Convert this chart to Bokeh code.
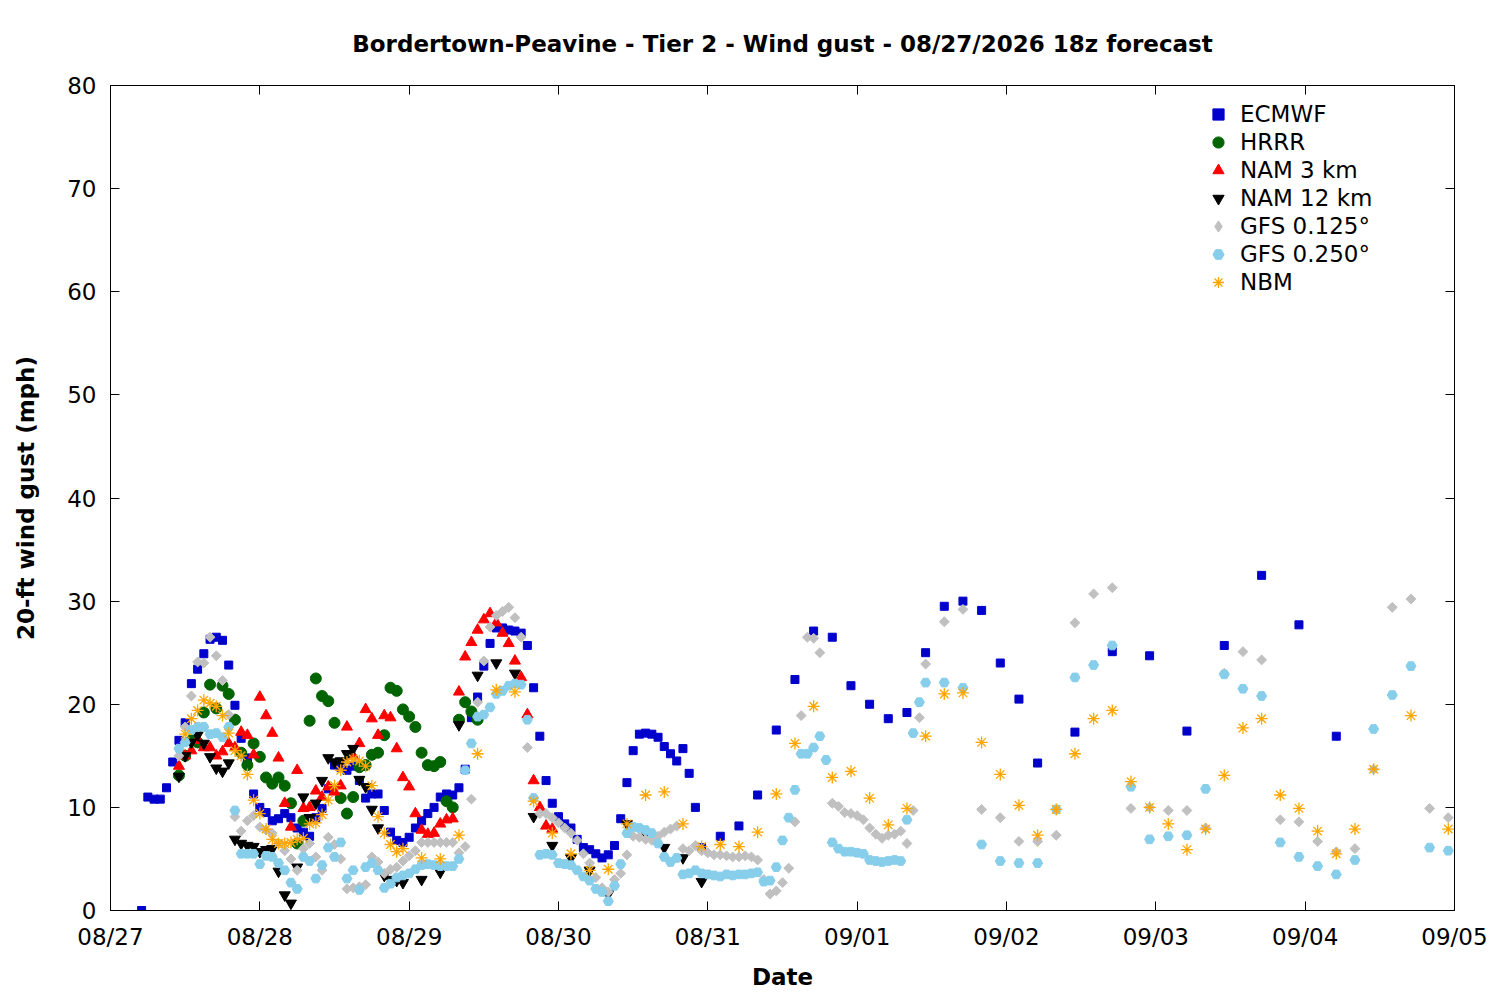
import numpy as np
from bokeh.plotting import figure
from bokeh.models import (FixedTicker, LinearAxis, Legend, Range1d, Scatter)
from bokeh.embed import file_html
from bokeh.resources import INLINE

TITLE = "Bordertown-Peavine - Tier 2 - Wind gust - 08/27/2026 18z forecast"
X_LABEL = "Date"
Y_LABEL = "20-ft wind gust (mph)"
DATE_TICKS = ["08/27", "08/28", "08/29", "08/30", "08/31", "09/01", "09/02", "09/03", "09/04", "09/05"]
Y_TICKS = [0, 10, 20, 30, 40, 50, 60, 70, 80]

# valid times, hours after 08/27 00
ecmwf_hours = list(range(5, 96)) + list(range(98, 150, 3)) + list(range(155, 198, 6))
ecmwf = [0.0, 11.0, 10.8, 10.8, 11.9, 14.4, 16.5, 18.2, 22.0, 23.4,
         24.9, 26.3, 26.5, 26.2, 23.8, 19.9, 16.7, 14.8, 11.3, 10.0,
         9.5, 8.7, 8.9, 9.4, 9.0, 8.0, 7.6, 7.2, 9.0, 9.9,
         11.8, 14.1, 13.9, 13.6, 14.0, 12.6, 10.9, 11.3, 11.3, 9.7,
         7.6, 6.8, 6.6, 7.1, 8.0, 8.7, 9.4, 10.0, 11.0, 11.3,
         11.2, 11.9, 13.7, 18.7, 20.7, 23.7, 25.9, 27.4, 27.4, 27.2,
         27.1, 26.9, 25.7, 21.6, 16.9, 12.6, 10.4, 9.1, 8.4, 8.0,
         6.9, 6.1, 5.9, 5.5, 5.1, 5.4, 6.3, 8.9, 12.4, 15.5,
         17.1, 17.2, 17.1, 16.8, 15.9, 15.2, 14.5, 15.7, 13.3, 10.0,
         6.1,
         7.2, 8.2, 11.2, 17.5, 22.4, 27.1, 26.5, 21.8, 20.0, 18.6,
         19.2, 25.0, 29.5, 30.0, 29.1, 24.0, 20.5, 14.3,
         17.3, 25.1, 24.7, 17.4, 25.7, 32.5, 27.7, 16.9]

hrrr_hours = list(range(11, 60))
hrrr = [13.1, 15.0, 16.5, 16.3, 19.2, 21.9, 19.6, 21.8, 21.0, 18.5,
        15.3, 14.1, 16.2, 14.9, 12.9, 12.3, 12.9, 12.1, 10.4, 6.5,
        8.7, 18.4, 22.5, 20.8, 20.3, 18.2, 10.9, 9.4, 11.0, 13.9,
        14.1, 15.1, 15.3, 17.0, 21.6, 21.3, 19.5, 18.8, 17.8, 15.3,
        14.1, 14.0, 14.4, 10.6, 10.0, 18.5, 20.2, 19.3, 18.5]

nam3_hours = list(range(11, 72))
nam3 = [14.0, 15.0, 15.5, 16.5, 15.8, 15.8, 15.0, 15.4, 16.2, 15.8,
        17.3, 17.0, 15.1, 20.7, 18.9, 17.2, 14.8, 10.4, 8.1, 13.6,
        9.9, 10.0, 11.6, 11.0, 12.0, 11.5, 12.1, 17.8, 15.0, 16.2,
        19.5, 18.6, 17.0, 18.9, 18.7, 15.7, 12.9, 12.0, 9.4, 7.8,
        7.4, 7.5, 8.4, 8.8, 8.9, 21.2, 24.6, 26.0, 27.2, 28.2,
        28.8, 27.9, 26.9, 25.9, 24.2, 22.6, 19.0, 12.6, 10.0, 8.2,
        7.9]

nam12_hours = list(range(11, 48)) + list(range(50, 96, 3))
nam12 = [13.0, 15.0, 16.3, 17.0, 16.2, 14.9, 13.8, 13.5, 14.3, 6.9,
         6.5, 6.3, 6.2, 5.7, 5.9, 6.0, 3.8, 1.5, 0.7, 4.2,
         11.0, 9.0, 10.4, 12.6, 14.8, 14.4, 14.5, 15.2, 15.7, 12.7,
         12.0, 9.8, 8.0, 3.4, 3.0, 2.9, 2.7,
         3.0, 3.7, 18.0, 22.8, 24.0, 23.0, 9.1, 6.3, 5.1, 3.9,
         1.6, 8.4, 7.5, 6.1, 5.1, 2.8]

gfs_hours = list(range(11, 132)) + list(range(134, 216, 3))
gfs0125 = [15.0, 17.8, 20.8, 24.1, 24.0, 26.5, 24.7, 22.3, 19.0, 9.1,
           7.7, 8.7, 9.2, 8.1, 7.8, 7.5, 6.5, 5.8, 5.0, 3.9,
           6.0, 6.5, 5.2, 3.9, 7.1, 6.4, 5.0, 2.1, 2.2, 2.3,
           2.5, 5.2, 4.7, 3.6, 4.0, 4.2, 4.8, 5.3, 5.8, 6.6,
           6.6, 6.6, 6.6, 6.6, 6.6, 5.6, 6.2, 10.8, 20.2, 24.2,
           27.5, 28.6, 29.0, 29.4, 28.4, 26.5, 15.8, 10.9, 9.4, 9.4,
           9.0, 8.5, 8.0, 7.5, 6.8, 5.5, 4.6, 3.2, 2.2, 1.8,
           3.0, 3.6, 5.4, 7.2, 7.1, 6.9, 6.8, 7.2, 7.6, 7.9,
           8.2, 6.0, 5.8, 6.3, 5.8, 5.6, 5.4, 5.4, 5.3, 5.2,
           5.2, 5.3, 5.2, 4.9, 3.0, 1.6, 1.9, 2.7, 4.1, 8.6,
           18.9, 26.5, 26.4, 25.0, 14.6, 10.4, 10.1, 9.5, 9.4, 9.2,
           8.8, 8.0, 7.4, 7.0, 7.3, 7.4, 7.7, 6.5, 9.7, 18.7,
           23.9,
           28.0, 29.2, 9.8, 9.0, 6.7, 6.7, 7.3, 27.9, 30.7, 31.3,
           9.9, 10.0, 9.7, 9.7, 8.0, 23.0, 25.1, 24.3, 8.8, 8.6,
           6.7, 5.7, 6.0, 13.7, 29.4, 30.2, 9.9, 9.0]
gfs0250 = [15.7, 16.3, 17.5, 17.8, 17.8, 17.1, 17.2, 16.8, 17.8, 9.7,
           5.5, 5.5, 5.5, 4.5, 5.3, 5.2, 4.6, 3.9, 2.7, 2.1,
           5.2, 4.8, 3.1, 4.4, 6.1, 5.2, 6.6, 3.1, 3.9, 2.0,
           4.2, 4.6, 3.9, 2.2, 2.6, 3.2, 3.4, 3.6, 4.0, 4.4,
           4.5, 4.4, 4.3, 4.3, 4.3, 5.0, 13.6, 16.2, 18.8, 19.0,
           19.7, 21.0, 21.3, 21.8, 22.0, 21.9, 18.5, 10.9, 5.4, 5.5,
           5.4, 4.6, 4.5, 4.4, 3.9, 3.3, 2.9, 2.1, 1.8, 0.9,
           2.4, 4.5, 7.5, 8.1, 8.0, 7.8, 7.5, 6.5, 5.2, 4.7,
           5.1, 3.5, 3.6, 3.9, 3.6, 3.5, 3.4, 3.3, 3.5, 3.4,
           3.5, 3.5, 3.6, 3.7, 2.8, 2.9, 4.2, 6.8, 9.0, 11.7,
           15.2, 15.2, 15.8, 16.9, 14.6, 6.6, 6.0, 5.7, 5.7, 5.6,
           5.5, 4.9, 4.8, 4.7, 4.8, 4.9, 4.8, 8.8, 17.2, 20.2,
           22.1,
           22.1, 21.6, 6.4, 4.8, 4.6, 4.6, 9.8, 22.6, 23.8, 25.7,
           12.0, 6.9, 7.2, 7.3, 11.8, 22.9, 21.5, 20.8, 6.6, 5.2,
           4.3, 3.5, 4.9, 17.6, 20.9, 23.7, 6.1, 5.8]

nbm_hours = list(range(12, 48)) + list(range(50, 204, 3)) + [209, 215]
nbm = [17.1, 18.6, 19.4, 20.4, 20.1, 19.8, 18.9, 17.2, 15.5,
       15.0, 13.2, 10.7, 9.4, 7.9, 6.9, 6.5, 6.5, 6.6, 6.9,
       7.0, 8.4, 8.5, 9.3, 10.7, 12.1, 13.6, 14.4, 14.7, 14.5,
       14.0, 12.1, 9.1, 7.5, 6.4, 5.7, 6.0,
       5.1, 5.0, 7.3, 15.2, 21.4, 21.2, 10.6, 7.5, 5.5, 3.9,
       4.0, 8.4, 11.2, 11.5, 8.4, 6.2, 6.4, 6.2, 7.6, 11.3,
       16.2, 19.8, 12.9, 13.5, 10.9, 8.3, 9.9, 16.9, 21.0, 21.1,
       16.3, 13.2, 10.2, 7.3, 9.8, 15.2, 18.6, 19.4, 12.5, 10.0,
       8.4, 5.9, 7.9, 13.1, 17.7, 18.6, 11.2, 9.9, 7.7, 5.5,
       7.9, 13.7,
       18.9, 7.9]

FONT = "DejaVu Sans"
FS = "23px"

p = figure(width=1492, height=992, output_backend="svg", toolbar_location=None,
           x_range=Range1d(0, 9), y_range=Range1d(0, 80),
           min_border_left=110, min_border_right=38, min_border_top=85, min_border_bottom=82,
           title=TITLE)
p.title.text_font = FONT
p.title.text_font_size = FS
p.title.text_font_style = "bold"
p.title.text_color = "black"
p.title.align = "center"
p.title.standoff = 57
p.grid.visible = False
p.outline_line_color = "black"
p.outline_line_width = 1
p.background_fill_color = "white"
p.border_fill_color = "white"

xt = FixedTicker(ticks=list(range(len(DATE_TICKS))))
yt = FixedTicker(ticks=Y_TICKS)

def style_axis(ax):
    ax.axis_line_color = "black"
    ax.major_tick_line_color = "black"
    ax.major_tick_in = 9
    ax.major_tick_out = 0
    ax.minor_tick_line_color = None
    ax.major_label_text_font = FONT
    ax.major_label_text_font_size = FS
    ax.major_label_text_color = "black"
    ax.axis_label_text_font = FONT
    ax.axis_label_text_font_size = FS
    ax.axis_label_text_font_style = "bold"
    ax.axis_label_text_color = "black"

p.xaxis.ticker = xt
p.xaxis.major_label_overrides = {i: t for i, t in enumerate(DATE_TICKS)}
p.xaxis.axis_label = X_LABEL
p.xaxis.major_label_standoff = 13
p.xaxis.axis_label_standoff = 11
style_axis(p.xaxis[0])
p.yaxis.ticker = yt
p.yaxis.axis_label = Y_LABEL
p.yaxis.major_label_standoff = 14
p.yaxis.axis_label_standoff = 25
style_axis(p.yaxis[0])

top_ax = LinearAxis(ticker=xt, major_label_overrides={i: "" for i in range(len(DATE_TICKS))},
                    major_label_standoff=0)
style_axis(top_ax)
p.add_layout(top_ax, "above")
right_ax = LinearAxis(ticker=yt, major_label_overrides={v: "" for v in Y_TICKS},
                      major_label_standoff=0)
style_axis(right_ax)
p.add_layout(right_ax, "right")

def days(hours, vals):
    n = min(len(hours), len(vals))
    return [h / 24.0 for h in hours[:n]], vals[:n]

has_ngon = "n" in Scatter.properties()
penta = dict(marker="ngon", n=5, size=11) if has_ngon else dict(marker="hex", size=10)

series = [
    ("ECMWF", ecmwf_hours, ecmwf, dict(marker="square", size=8, color="#0000CD"), None),
    ("HRRR", hrrr_hours, hrrr, dict(marker="circle", size=11, color="#006400"), None),
    ("NAM 3 km", nam3_hours, nam3, dict(marker="triangle", size=11, color="#FF0000"), None),
    ("NAM 12 km", nam12_hours, nam12, dict(marker="inverted_triangle", size=11, color="#000000"), None),
    ("GFS 0.125°", gfs_hours, gfs0125,
     dict(marker="square", size=7, angle=np.pi / 4, color="#C0C0C0"),
     dict(marker="diamond", size=14, color="#C0C0C0")),
    ("GFS 0.250°", gfs_hours, gfs0250, dict(color="#87CEEB", **penta), None),
    ("NBM", nbm_hours, nbm, dict(marker="asterisk", size=12, line_color="#FFA500", line_width=1.3), None),
]

items = []
for name, hrs, vals, kw, legkw in series:
    xs, ys = days(hrs, vals)
    r = p.scatter(xs, ys, **kw)
    if legkw is not None:
        proxy = p.scatter(x=[float("nan")], y=[float("nan")], **legkw)
        items.append((name, [proxy]))
    else:
        items.append((name, [r]))

legend = Legend(items=items, location=(1094, 614))
legend.label_text_font = FONT
legend.label_text_font_size = FS
legend.label_text_color = "black"
legend.border_line_color = None
legend.background_fill_alpha = 0
legend.padding = 0
legend.margin = 0
legend.spacing = 0
legend.label_height = 28
legend.glyph_height = 28
legend.glyph_width = 28
legend.label_standoff = 8
p.add_layout(legend, "center")

open("out.html", "w").write(file_html(p, INLINE))
